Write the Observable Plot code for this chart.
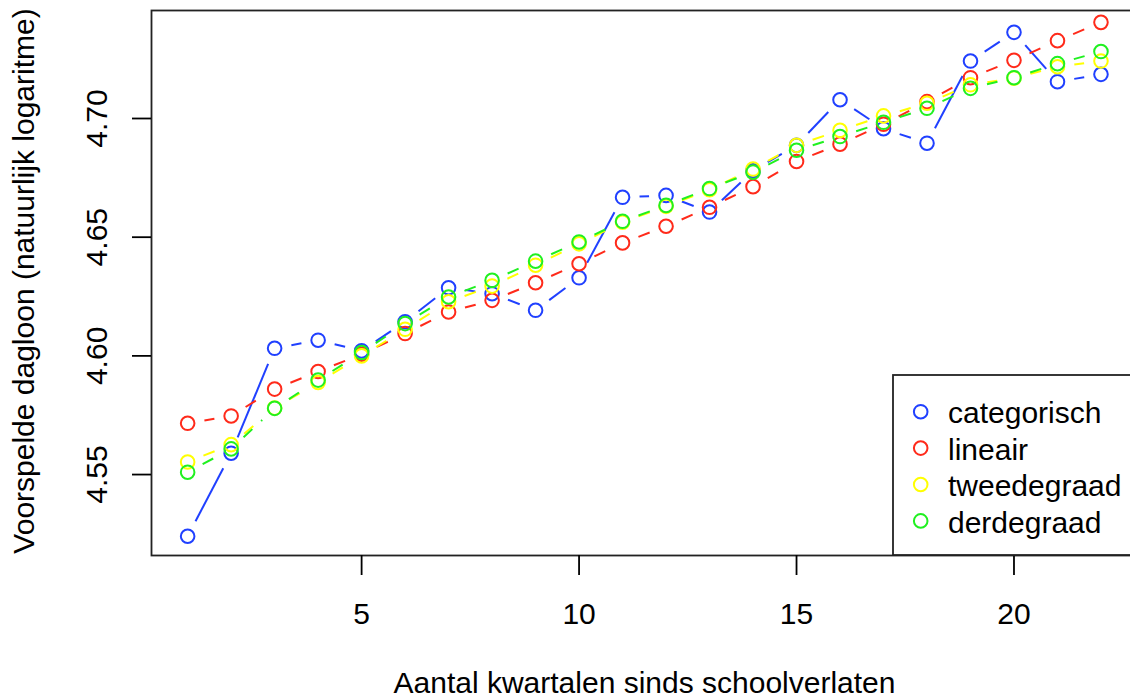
<!DOCTYPE html>
<html><head><meta charset="utf-8">
<script src="https://cdn.jsdelivr.net/npm/d3@7"></script>
<script src="https://cdn.jsdelivr.net/npm/@observablehq/plot@0.6"></script>
<style>
html,body{margin:0;padding:0;background:#fff;overflow:hidden}
#wrap{position:relative;width:1130px;height:699px;overflow:hidden;font-family:"Liberation Sans",Arial,sans-serif;background:#fff}
</style></head><body><div id="wrap"></div>
<script>
const quarters = [1,2,3,4,5,6,7,8,9,10,11,12,13,14,15,16,17,18,19,20,21,22];
const categorisch = [4.5240,4.5590,4.6032,4.6066,4.6021,4.6144,4.6287,4.6262,4.6192,4.6329,4.6668,4.6676,4.6606,4.6780,4.6887,4.7079,4.6957,4.6896,4.7242,4.7363,4.7155,4.7186];
const lineair     = [4.5716,4.5747,4.5860,4.5934,4.6007,4.6094,4.6185,4.6234,4.6308,4.6388,4.6476,4.6546,4.6626,4.6713,4.6819,4.6892,4.6976,4.7071,4.7172,4.7245,4.7328,4.7405];
const tweedegraad = [4.5553,4.5626,4.5780,4.5888,4.6000,4.6112,4.6228,4.6294,4.6382,4.6472,4.6563,4.6630,4.6700,4.6787,4.6887,4.6950,4.7011,4.7064,4.7142,4.7170,4.7218,4.7242];
const derdegraad  = [4.5510,4.5608,4.5779,4.5898,4.6014,4.6136,4.6248,4.6318,4.6399,4.6480,4.6567,4.6634,4.6705,4.6774,4.6866,4.6924,4.6984,4.7043,4.7127,4.7172,4.7231,4.7282];
const seriesNames = ["categorisch","lineair","tweedegraad","derdegraad"];
const seriesColors = ["#2040ff","#ff2a1a","#ffff00","#20f020"];
const seriesDash = [null,"12,12","12,12","12,12"];
const xTicks = [5,10,15,20];
const yTicks = [4.55,4.60,4.65,4.70];
const xTitle = "Aantal kwartalen sinds schoolverlaten";
const yTitle = "Voorspelde dagloon (natuurlijk logaritme)";

const seriesValues = [categorisch, lineair, tweedegraad, derdegraad];
const FS = 30;
const marks = [Plot.frame({stroke:"#222", strokeWidth:1.8})];
seriesNames.forEach((name, s) => {
  const v = seriesValues[s];
  const pts = quarters.map((q,i)=>({x:q, y:v[i], series:name}));
  const segs = pts.slice(1).map((p,i)=>({x1:pts[i].x, y1:pts[i].y, x2:p.x, y2:p.y}));
  const opts = {x1:"x1", y1:"y1", x2:"x2", y2:"y2", headLength:0, insetStart:17, insetEnd:17,
    stroke:seriesColors[s], strokeWidth:2, strokeLinecap:"butt"};
  if (seriesDash[s]) opts.strokeDasharray = seriesDash[s];
  marks.push(Plot.arrow(segs, opts));
  marks.push(Plot.dot(pts, {x:"x", y:"y", r:6.8, stroke:seriesColors[s], strokeWidth:2, fill:"none"}));
});
marks.push(Plot.axisX({ticks:xTicks, tickSize:20, tickPadding:27, strokeWidth:1.8, label:null, fontSize:FS}));
marks.push(Plot.axisY({ticks:yTicks, tickSize:19, strokeWidth:1.8, tickFormat:()=>"", label:null}));
marks.push(Plot.text(yTicks, {y:d=>d, frameAnchor:"left", text:d=>d.toFixed(2), rotate:-90, textAnchor:"middle", lineAnchor:"middle", dx:-54, fontSize:FS}));
marks.push(Plot.text([yTitle], {frameAnchor:"left", text:d=>d, rotate:-90, textAnchor:"middle", lineAnchor:"middle", dx:-127, dy:-2, fontSize:FS}));
marks.push(Plot.text([xTitle], {frameAnchor:"bottom", text:d=>d, textAnchor:"middle", lineAnchor:"middle", dy:128, fontSize:FS}));

const chart = Plot.plot({
  width:1137, height:699,
  marginLeft:151, marginRight:0, marginTop:10, marginBottom:144,
  style:"max-width:none;background:white;font-family:'Liberation Sans',Arial,sans-serif;font-size:30px;color:black;",
  x:{domain:[0.169,22.84]},
  y:{domain:[4.5159,4.7455]},
  marks
});
const wrap = document.getElementById("wrap");
wrap.appendChild(chart);

const lg = d3.select(wrap).append("svg").attr("width",1130).attr("height",699)
  .style("position","absolute").style("left","0px").style("top","0px");
lg.append("rect").attr("x",893).attr("y",375).attr("width",300).attr("height",180)
  .attr("fill","white").attr("stroke","#222").attr("stroke-width",1.8);
seriesNames.forEach((n,i)=>{
  lg.append("circle").attr("cx",920.7).attr("cy",411.7+i*36.4).attr("r",6.8)
    .attr("fill","none").attr("stroke",seriesColors[i]).attr("stroke-width",2);
  lg.append("text").attr("x",948).attr("y",423.3+i*36.4).text(n)
    .style("font-size",FS+"px").style("font-family","'Liberation Sans',Arial,sans-serif").attr("fill","black");
});
</script></body></html>
